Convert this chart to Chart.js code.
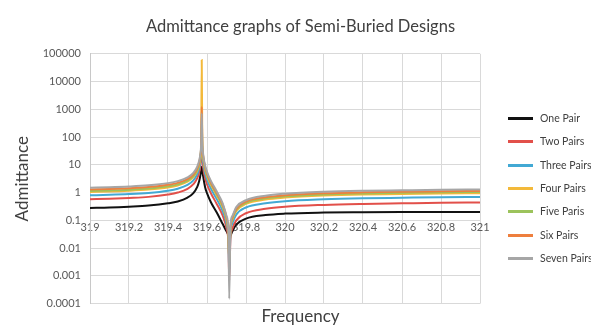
<!DOCTYPE html>
<html>
<head>
<meta charset="utf-8">
<script src="https://cdn.jsdelivr.net/npm/chart.js@4/dist/chart.umd.min.js"></script>
<style>
	html, body { margin: 0; padding: 0; background: #fff; overflow: hidden; }
	#wrap { position: relative; width: 591px; height: 333px; overflow: hidden; }
	#legend { position: absolute; left: 508px; top: 0; width: 83px; height: 333px; font-family: Lato, sans-serif; font-size: 10.5px; color: #404040; }
	.item { position: absolute; left: 0; white-space: nowrap; height: 12px; line-height: 12px; }
	.item .swatch { position: absolute; left: 0; top: 5px; width: 25px; height: 3px; }
	.item span { position: absolute; left: 32px; top: 0; }
</style>
</head>
<body>
<div id="wrap">
	<canvas id="chart" width="591" height="333"></canvas>
	<div id="legend"></div>
</div>
<script>
// frequency samples (denser around the resonance and anti-resonance)
const freq = [319, 319.1, 319.2, 319.3, 319.4, 319.45, 319.5, 319.53, 319.55, 319.56, 319.565, 319.57, 319.573, 319.576, 319.58, 319.59, 319.6, 319.62, 319.65, 319.68, 319.7, 319.71, 319.714, 319.72, 319.73, 319.75, 319.8, 319.9, 320, 320.2, 320.4, 320.6, 320.8, 321]

const onePair = [0.28, 0.29, 0.31, 0.34, 0.41, 0.48, 0.66, 0.96, 1.6, 2.6, 3.8, 6.2, 8.5, 6.0, 4.0, 1.6, 0.95, 0.45, 0.19, 0.075, 0.04, 0.03, 0.025, 0.028, 0.04, 0.07, 0.115, 0.155, 0.175, 0.19, 0.195, 0.198, 0.2, 0.2]
const twoPairs = [0.58, 0.6, 0.64, 0.7, 0.85, 1.0, 1.36, 2.0, 3.3, 5.5, 8.5, 18, 30, 18, 8.5, 3.5, 2.0, 0.95, 0.39, 0.15, 0.052, 0.014, 0.0007, 0.02, 0.05, 0.1, 0.18, 0.26, 0.31, 0.36, 0.39, 0.41, 0.43, 0.44]
const threePairs = [0.8, 0.83, 0.88, 0.97, 1.17, 1.38, 1.88, 2.75, 4.6, 7.6, 11.9, 28, 80, 28, 13, 5.1, 2.95, 1.4, 0.58, 0.22, 0.077, 0.02, 0.0013, 0.032, 0.077, 0.16, 0.29, 0.41, 0.49, 0.57, 0.62, 0.65, 0.68, 0.7]
const fourPairs = [1.05, 1.09, 1.16, 1.28, 1.53, 1.81, 2.47, 3.6, 6.0, 10, 15.6, 40, 60000, 44, 18, 6.9, 4.0, 1.9, 0.79, 0.3, 0.105, 0.028, 0.003, 0.044, 0.105, 0.22, 0.39, 0.56, 0.66, 0.78, 0.85, 0.88, 0.92, 0.95]
const fivePairs = [1.15, 1.2, 1.27, 1.4, 1.68, 1.98, 2.7, 3.95, 6.6, 10.9, 17, 43, 300, 48, 20, 7.6, 4.4, 2.1, 0.86, 0.33, 0.115, 0.03, 0.003, 0.048, 0.115, 0.24, 0.43, 0.62, 0.73, 0.86, 0.93, 0.98, 1.02, 1.05]
const sixPairs = [1.3, 1.35, 1.44, 1.58, 1.9, 2.24, 3.05, 4.46, 7.4, 12.3, 19.4, 50, 1200, 53, 22, 8.5, 4.9, 2.3, 0.96, 0.37, 0.128, 0.034, 0.003, 0.053, 0.127, 0.26, 0.47, 0.68, 0.8, 0.94, 1.02, 1.07, 1.11, 1.15]
const sevenPairs = [1.5, 1.56, 1.66, 1.83, 2.19, 2.58, 3.5, 5.1, 8.6, 14.2, 22.4, 57, 700, 61, 25, 9.6, 5.6, 2.64, 1.1, 0.42, 0.145, 0.038, 0.00015, 0.06, 0.143, 0.3, 0.53, 0.77, 0.91, 1.07, 1.16, 1.21, 1.26, 1.3]

const seriesNames = ["One Pair", "Two Pairs", "Three Pairs", "Four Pairs", "Five Paris", "Six Pairs", "Seven Pairs"]
const seriesValues = [onePair, twoPairs, threePairs, fourPairs, fivePairs, sixPairs, sevenPairs]
const seriesColors = ["#111111", "#e2504a", "#42a9d4", "#f3b93a", "#9cc35c", "#ee7f3e", "#a6a6a6"]

const xTicks = [319, 319.2, 319.4, 319.6, 319.8, 320, 320.2, 320.4, 320.6, 320.8, 321]
const yTicks = [0.0001, 0.001, 0.01, 0.1, 1, 10, 100, 1000, 10000, 100000]

const FONT = "Lato, 'Open Sans', sans-serif"

const datasets = seriesNames.map((name, i) => ({
	label: name,
	data: freq.map((f, j) => ({x: f, y: seriesValues[i][j]})),
	borderColor: seriesColors[i],
	backgroundColor: seriesColors[i],
	borderWidth: 2,
	pointRadius: 0,
	cubicInterpolationMode: "monotone",
	order: seriesNames.length - i
}))

const chart = new Chart("chart", {
	type: "line",
	data: { datasets: datasets },
	options: {
		responsive: false,
		animation: false,
		devicePixelRatio: 1,
		layout: { padding: { left: 10, right: 0, top: 0, bottom: 0 } },
		plugins: {
			legend: { display: false },
			tooltip: { enabled: false },
			title: {
				display: true,
				text: "Admittance graphs of Semi-Buried Designs",
				color: "#404040",
				font: { family: FONT, size: 16.5, weight: "normal" },
				padding: { top: 17, bottom: 17 }
			},
			subtitle: {
				display: true,
				position: "bottom",
				text: "Frequency",
				color: "#404040",
				font: { family: FONT, size: 17, weight: "normal" },
				padding: { top: 3, bottom: 6 }
			}
		},
		scales: {
			x: {
				type: "linear",
				min: 319,
				max: 321,
				position: { y: 0.1 },
				afterBuildTicks: (s) => { s.ticks = xTicks.map(v => ({value: v})) },
				ticks: {
					color: "#595959",
					font: { family: FONT, size: 11 },
					padding: 1,
					maxRotation: 0,
					autoSkip: false,
					callback: (v) => String(v)
				},
				grid: { color: "#d9d9d9", drawTicks: false },
				border: { display: false }
			},
			y: {
				type: "logarithmic",
				min: 0.0001,
				max: 100000,
				position: "left",
				afterBuildTicks: (s) => { s.ticks = yTicks.map(v => ({value: v})) },
				afterFit: (s) => { s.width = 80 },
				ticks: {
					color: "#595959",
					font: { family: FONT, size: 11 },
					padding: 9,
					autoSkip: false,
					callback: (v) => String(v)
				},
				grid: { color: "#d9d9d9", drawTicks: false },
				border: { color: "#c8c8c8" },
				title: {
					display: true,
					text: "Admittance",
					color: "#404040",
					font: { family: FONT, size: 17, weight: "normal" },
					padding: { top: 2, bottom: 0 }
				}
			},
			// empty axis only reserving the room where the legend sits
			yRight: {
				type: "linear",
				position: "right",
				display: true,
				afterFit: (s) => { s.width = 111 },
				ticks: { display: false },
				grid: { display: false },
				border: { display: false }
			}
		}
	}
})

const legend = document.getElementById("legend")
chart.data.datasets.forEach((d, i) => {
	const item = document.createElement("div")
	item.className = "item"
	item.style.top = Math.round(112 + i * 23.3) + "px"
	item.innerHTML = '<div class="swatch" style="background:' + d.borderColor + '"></div><span>' + d.label + '</span>'
	legend.appendChild(item)
})
</script>
</body>
</html>
